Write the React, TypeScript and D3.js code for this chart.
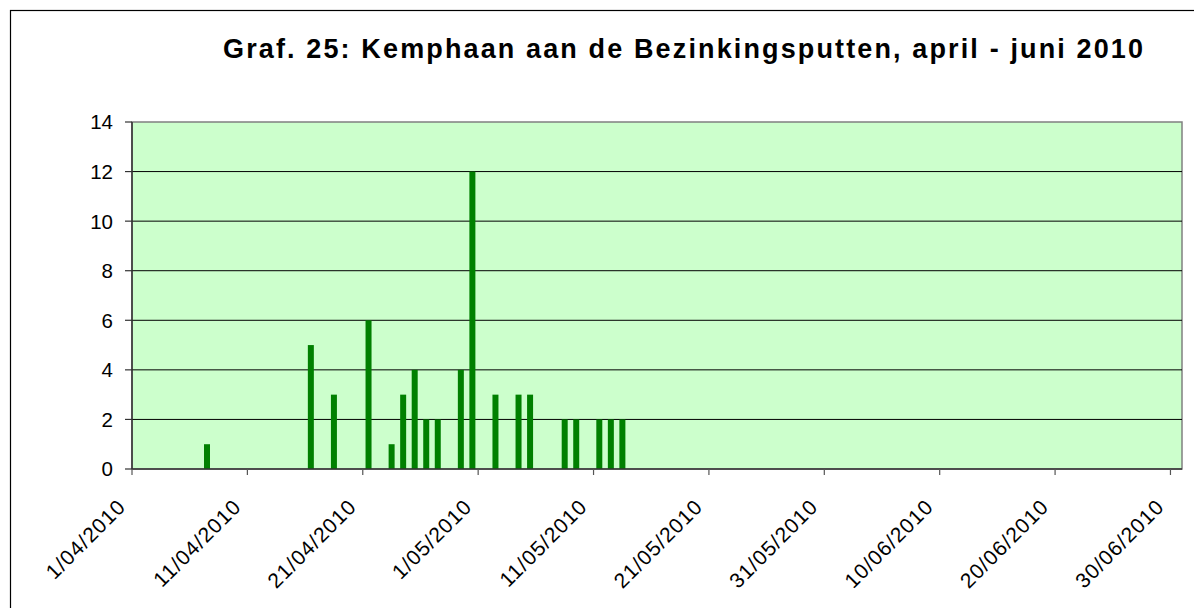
import React from "react";
import * as d3 from "d3";

// counts per day (Kemphaan, Bezinkingsputten)
const dates = [
  "2010-04-07", "2010-04-16", "2010-04-18", "2010-04-21", "2010-04-23",
  "2010-04-24", "2010-04-25", "2010-04-26", "2010-04-27", "2010-04-29",
  "2010-04-30", "2010-05-02", "2010-05-04", "2010-05-05", "2010-05-08",
  "2010-05-09", "2010-05-11", "2010-05-12", "2010-05-13",
];
const counts = [1, 5, 3, 6, 1, 3, 4, 2, 2, 4, 12, 3, 3, 3, 2, 2, 2, 2, 2];
const yTicks = [0, 2, 4, 6, 8, 10, 12, 14];
const xTickDates = [
  "2010-04-01", "2010-04-11", "2010-04-21", "2010-05-01", "2010-05-11",
  "2010-05-21", "2010-05-31", "2010-06-10", "2010-06-20", "2010-06-30",
];
const title = "Graf. 25: Kemphaan aan de Bezinkingsputten, april - juni 2010";

const W = 1194, H = 608;
const m = { left: 132, right: 1182, top: 122, bottom: 469 };

export default function App() {
  const parse = d3.utcParse("%Y-%m-%d");
  const fmt = d3.utcFormat("%-d/%m/%Y");
  const x = d3.scaleUtc()
    .domain([parse("2010-04-01")!, parse("2010-07-01")!])
    .range([m.left, m.right]);
  const y = d3.scaleLinear().domain([0, 14]).range([m.bottom, m.top]);
  const dayW = x(parse("2010-04-02")!) - x(parse("2010-04-01")!);
  const barW = dayW * 0.52;

  return (
    <svg width={W} height={H} style={{ position: "absolute", left: 0, top: 0, background: "#fff" }}
      fontFamily="'Liberation Sans', Arial, sans-serif">
      <rect x={10.5} y={10.5} width={1190} height={620} fill="#fff" stroke="#000" strokeWidth={1.2} />
      <text x={223} y={58} fontSize={27} fontWeight="bold" textLength={920}
        lengthAdjust="spacing">{title}</text>

      <rect x={m.left} y={m.top} width={m.right - m.left} height={m.bottom - m.top}
        fill="#ccffcc" stroke="#808080" strokeWidth={1.5} />
      {yTicks.filter(t => t > 0 && t < 14).map(t => (
        <line key={t} x1={m.left} x2={m.right} y1={y(t)} y2={y(t)} stroke="#000" strokeWidth={1} />
      ))}

      {dates.map((d, i) => {
        const cx = x(parse(d)!) + dayW / 2;
        return (
          <rect key={d} x={cx - barW / 2} y={y(counts[i])} width={barW}
            height={y(0) - y(counts[i])} fill="#008000" />
        );
      })}

      {/* y axis */}
      <line x1={m.left} x2={m.left} y1={m.top} y2={m.bottom} stroke="#333" strokeWidth={1.5} />
      {yTicks.map(t => (
        <g key={t}>
          <line x1={m.left - 7} x2={m.left} y1={y(t)} y2={y(t)} stroke="#333" strokeWidth={1.2} />
          <text x={m.left - 19} y={y(t)} dy="0.36em" textAnchor="end" fontSize={20.5}>{t}</text>
        </g>
      ))}

      {/* x axis */}
      <line x1={m.left} x2={m.right} y1={m.bottom} y2={m.bottom} stroke="#333" strokeWidth={1.5} />
      {xTickDates.map(d => {
        const tx = x(parse(d)!);
        return (
          <g key={d}>
            <line x1={tx} x2={tx} y1={m.bottom} y2={m.bottom + 6} stroke="#555" strokeWidth={1.2} />
            <text transform={`translate(${tx - 5},${m.bottom + 39}) rotate(-45)`} textAnchor="end"
              fontSize={21} letterSpacing={1}>{fmt(parse(d)!)}</text>
          </g>
        );
      })}
    </svg>
  );
}
